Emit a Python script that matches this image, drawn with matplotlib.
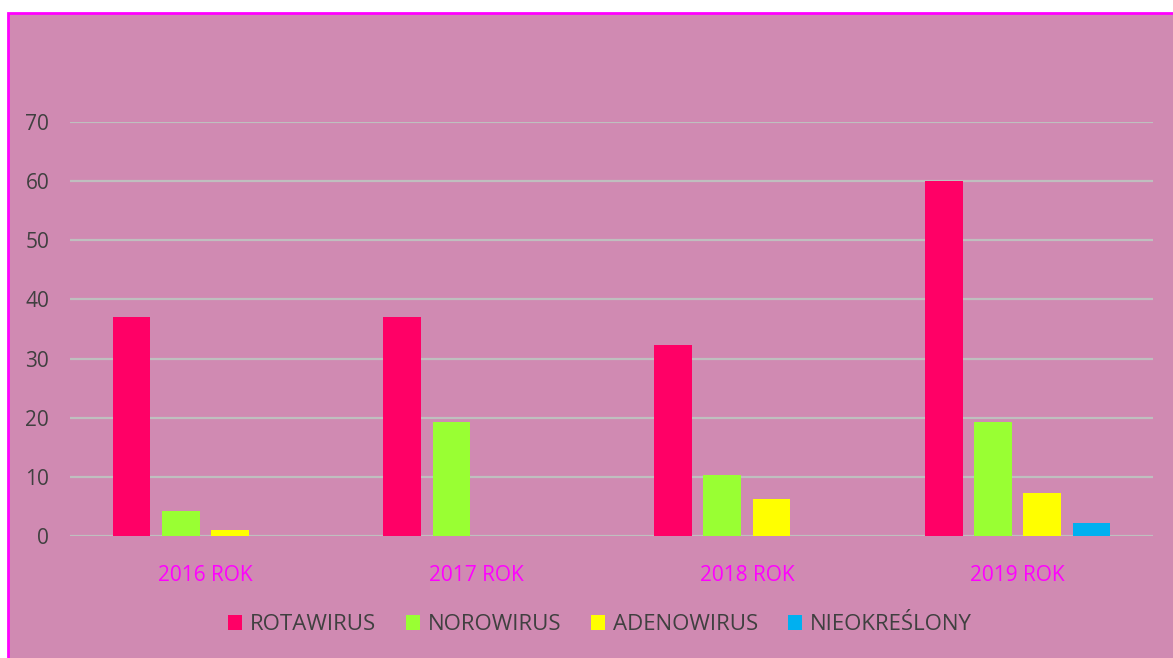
import numpy as np
import matplotlib.pyplot as plt
from matplotlib.patches import Rectangle

# data
years = ["2016 ROK", "2017 ROK", "2018 ROK", "2019 ROK"]
rotawirus = [37, 37, 32.3, 60]
norowirus = [4.2, 19.2, 10.3, 19.2]
adenowirus = [1.0, 0, 6.3, 7.3]
nieokreslony = [0, 0, 0, 2.2]

series = ["ROTAWIRUS", "NOROWIRUS", "ADENOWIRUS", "NIEOKREŚLONY"]
colors = ["#FF0066", "#99FF33", "#FFFF00", "#00B0F0"]
bg = "#D08AB2"

plt.rcParams['font.family'] = ['Open Sans', 'DejaVu Sans']

W, H = 1173, 658
fig = plt.figure(figsize=(W / 100, H / 100), dpi=100, facecolor="white")
# pink panel with magenta frame
fig.patches.append(Rectangle((8 / W, -0.05), 1.1, (H - 13) / H + 0.05, transform=fig.transFigure,
                             facecolor=bg, edgecolor="#FF00FF", linewidth=2, zorder=-5))

ax = fig.add_axes([70 / W, (H - 536) / H, (1153 - 70) / W, (536 - 122) / H])
ax.set_facecolor("none")
ax.set_zorder(2)

x = np.arange(len(years))
step = 0.182
width = 0.14
for i, (name, vals) in enumerate(zip(series, [rotawirus, norowirus, adenowirus, nieokreslony])):
    ax.bar(x + (i - 1.5) * step, vals, width=width, color=colors[i], label=name, zorder=3)

ax.set_xlim(-0.5, 3.5)
ax.set_ylim(0, 70)
ax.set_yticks(range(0, 71, 10))
ax.set_xticks(x)
ax.set_xticklabels(years)
ax.grid(axis='y', color="#BFBFBF", linewidth=1.6, zorder=0)
ax.set_axisbelow(True)
for s in ax.spines.values():
    s.set_visible(False)
ax.tick_params(axis='y', length=0, pad=15, labelsize=15, labelcolor="#404040")
ax.tick_params(axis='x', length=0, pad=21, labelsize=15, labelcolor="#FF00FF")

leg = fig.legend(loc='center', bbox_to_anchor=(600 / W, 1 - 625 / H), ncol=4, frameon=False,
                 fontsize=16, handlelength=0.64, handleheight=0.64, handletextpad=0.36,
                 columnspacing=1.32, labelcolor="#404040")
leg.set_zorder(3)

fig.savefig("out.png", dpi=100, facecolor="white")
